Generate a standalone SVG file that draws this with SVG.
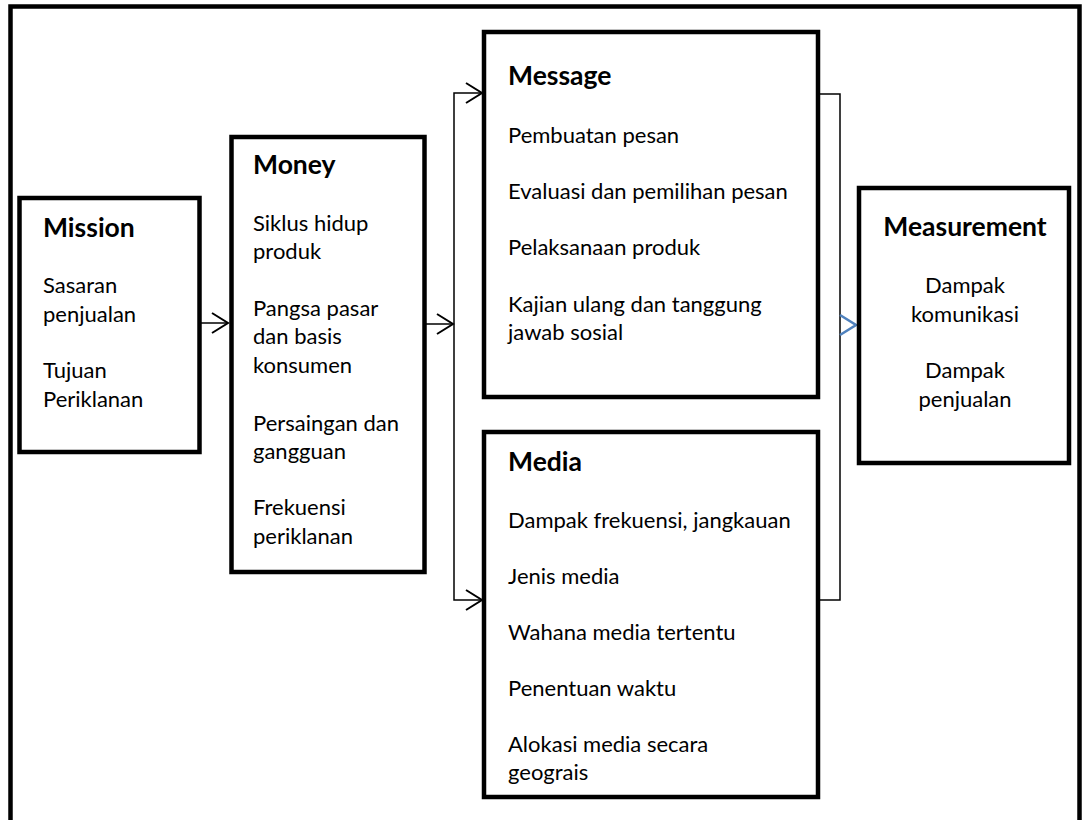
<svg xmlns="http://www.w3.org/2000/svg" width="1083" height="820" viewBox="0 0 1083 820">
<style>
.box{fill:#fff;stroke:#000;stroke-width:4.5}
.t{font-family:Lato,"Open Sans","Liberation Sans",sans-serif;font-size:22px;fill:#000}
.h{font-family:Lato,"Open Sans","Liberation Sans",sans-serif;font-size:26.5px;font-weight:bold;fill:#000}
.c{fill:none;stroke:#000;stroke-width:1.5}
.ah{fill:none;stroke:#000;stroke-width:2}
</style>
<rect x="0" y="0" width="1083" height="820" fill="#fff"/>
<rect id="frame" x="10.5" y="6.5" width="1069" height="830" fill="none" stroke="#000" stroke-width="4.5"/>
<g id="connectors">
<line class="c" x1="200" y1="323" x2="228" y2="323"/>
<polyline class="ah" points="212,313 228,323 212,333"/>
<line class="c" x1="425" y1="324" x2="453" y2="324"/>
<polyline class="ah" points="437,314 453,324 437,334"/>
<polyline class="c" points="482,93 454,93 454,600 482,600"/>
<polyline class="ah" points="466,83 482,93 466,103"/>
<polyline class="ah" points="466,590 482,600 466,610"/>
<polyline class="c" points="818,94 840,94 840,600 818,600"/>
<polyline fill="none" stroke="#4F81BD" stroke-width="2.6" points="840,315 856,325 840,335"/>
</g>
<g id="mission">
<rect class="box" x="19.5" y="198" width="180" height="254"/>
<text class="h" x="43" y="237">Mission</text>
<text class="t" x="43" y="293">Sasaran</text>
<text class="t" x="43" y="322">penjualan</text>
<text class="t" x="43" y="378">Tujuan</text>
<text class="t" x="43" y="407">Periklanan</text>
</g>
<g id="money">
<rect class="box" x="231.5" y="137" width="193" height="435"/>
<text class="h" x="253" y="174">Money</text>
<text class="t" x="253" y="231">Siklus hidup</text>
<text class="t" x="253" y="259">produk</text>
<text class="t" x="253" y="316">Pangsa pasar</text>
<text class="t" x="253" y="344">dan basis</text>
<text class="t" x="253" y="373">konsumen</text>
<text class="t" x="253" y="431">Persaingan dan</text>
<text class="t" x="253" y="459">gangguan</text>
<text class="t" x="253" y="515">Frekuensi</text>
<text class="t" x="253" y="544">periklanan</text>
</g>
<g id="message">
<rect class="box" x="484" y="32" width="334" height="365"/>
<text class="h" x="508" y="85">Message</text>
<text class="t" x="508" y="143">Pembuatan pesan</text>
<text class="t" x="508" y="199">Evaluasi dan pemilihan pesan</text>
<text class="t" x="508" y="255">Pelaksanaan produk</text>
<text class="t" x="508" y="312">Kajian ulang dan tanggung</text>
<text class="t" x="508" y="340">jawab sosial</text>
</g>
<g id="media">
<rect class="box" x="484" y="432" width="334" height="365"/>
<text class="h" x="508" y="471">Media</text>
<text class="t" x="508" y="528">Dampak frekuensi, jangkauan</text>
<text class="t" x="508" y="584">Jenis media</text>
<text class="t" x="508" y="640">Wahana media tertentu</text>
<text class="t" x="508" y="696">Penentuan waktu</text>
<text class="t" x="508" y="752">Alokasi media secara</text>
<text class="t" x="508" y="780">geograis</text>
</g>
<g id="measurement">
<rect class="box" x="859" y="188" width="210" height="275"/>
<text class="h" x="965" y="236" text-anchor="middle">Measurement</text>
<text class="t" x="965" y="293" text-anchor="middle">Dampak</text>
<text class="t" x="965" y="322" text-anchor="middle">komunikasi</text>
<text class="t" x="965" y="378" text-anchor="middle">Dampak</text>
<text class="t" x="965" y="407" text-anchor="middle">penjualan</text>
</g>
</svg>
